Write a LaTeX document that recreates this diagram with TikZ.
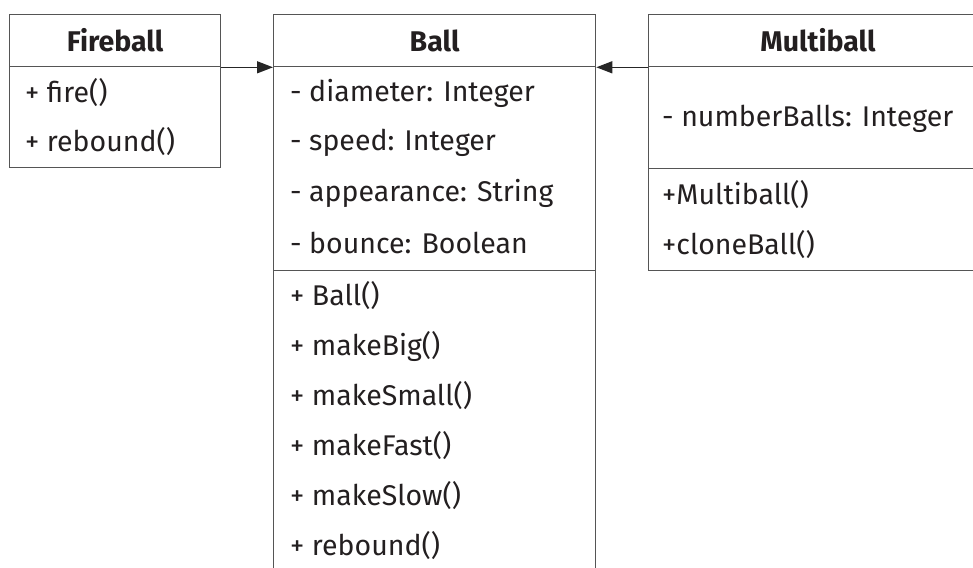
\documentclass[tikz,border=0pt]{standalone}
\usepackage{fontspec}
\setmainfont{Fira Sans}
\usetikzlibrary{arrows.meta}
\begin{document}
\begin{tikzpicture}[x=1pt,y=-1pt,
  comp/.style={draw=linegray, line width=1.3pt, rectangle, inner sep=0pt, anchor=north west},
  title/.style={font=\fontsize{28.5}{32}\selectfont\bfseries, text=textcol, inner sep=0pt},
  item/.style={font=\fontsize{28.5}{32}\selectfont, text=textcol, anchor=west, inner sep=0pt},
  arr/.style={draw=black!85, line width=1.3pt, -{Triangle[length=16pt,width=12pt]}}]
\definecolor{linegray}{RGB}{85,85,85}
\definecolor{textcol}{RGB}{35,31,32}
\clip (0,0) rectangle (973,567);
\fill[white] (0,0) rectangle (973,567);
% Fireball
\node[comp, minimum width=211pt, minimum height=52pt] (fT) at (9,14) {};
\node[comp, minimum width=211pt, minimum height=101pt] (fO) at (9,66) {};
\node[title] (fTt) at (fT.center) {Fireball};
\node[item] (f1) at (25,93) {+ fire()};
\node[item] (f2) at (25,142) {+ rebound()};
% Ball
\node[comp, minimum width=322pt, minimum height=52pt] (bT) at (273,14) {};
\node[comp, minimum width=322pt, minimum height=204pt] (bA) at (273,66) {};
\node[comp, minimum width=322pt, minimum height=320pt] (bO) at (273,270) {};
\node[title] (bTt) at (bT.center) {Ball};
\node[item] (a1) at (290,93) {- diameter: Integer};
\node[item] (a2) at (290,143) {- speed: Integer};
\node[item] (a3) at (290,193) {- appearance: String};
\node[item] (a4) at (290,243) {- bounce: Boolean};
\node[item] (o1) at (290,296) {+ Ball()};
\node[item] (o2) at (290,346) {+ makeBig()};
\node[item] (o3) at (290,396) {+ makeSmall()};
\node[item] (o4) at (290,446) {+ makeFast()};
\node[item] (o5) at (290,496) {+ makeSlow()};
\node[item] (o6) at (290,546) {+ rebound()};
% Multiball
\node[comp, minimum width=340pt, minimum height=52pt] (mT) at (648,14) {};
\node[comp, minimum width=340pt, minimum height=102pt] (mA) at (648,66) {};
\node[comp, minimum width=340pt, minimum height=102pt] (mO) at (648,168) {};
\node[title] (mTt) at (818,40) {Multiball};
\node[item] (m1) at (662,119) {- numberBalls: Integer};
\node[item] (m2) at (662,195) {+Multiball()};
\node[item] (m3) at (662,245) {+cloneBall()};
% arrows
\draw[arr] (fT.south east) -- (bT.south west);
\draw[arr] (mT.south west) -- (bT.south east);
\end{tikzpicture}
\end{document}
